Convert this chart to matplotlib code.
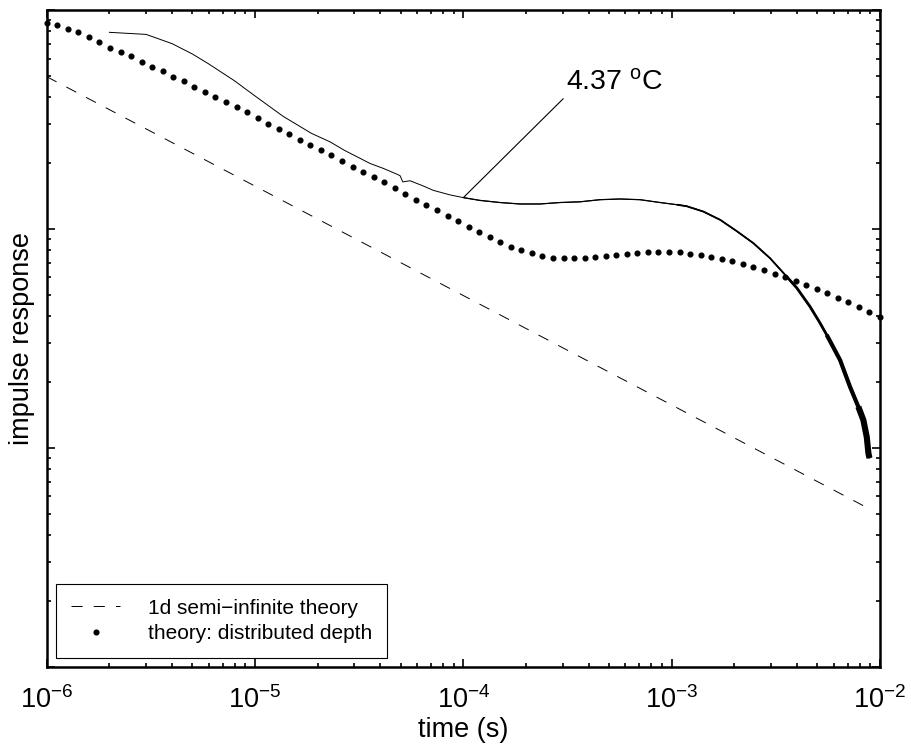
import numpy as np
import matplotlib
matplotlib.use("Agg")
import matplotlib.pyplot as plt
from matplotlib.ticker import LogLocator, NullFormatter

plt.rcParams["font.family"] = ["Liberation Sans", "DejaVu Sans"]
plt.rcParams["mathtext.fontset"] = "custom"
plt.rcParams["mathtext.rm"] = "Liberation Sans"
plt.rcParams["mathtext.it"] = "Liberation Sans:italic"
plt.rcParams["lines.scale_dashes"] = False

# measured impulse response at 4.37 C (time in s, arbitrary units)
t_meas = [2e-6, 3e-6, 4e-6, 5e-6, 6e-6, 7e-6, 8e-6, 9e-6, 1e-5,
          1.37e-5, 1.87e-5, 2.29e-5, 2.70e-5, 3.57e-5, 4.13e-5, 4.79e-5,
          4.97e-5, 5.12e-5, 5.55e-5, 6.43e-5, 7.18e-5, 8.64e-5, 1.0e-4,
          1.20e-4, 1.50e-4, 1.87e-4, 2.33e-4, 2.91e-4, 3.63e-4, 4.53e-4,
          5.65e-4, 7.05e-4, 8.80e-4, 1.06e-3, 1.18e-3, 1.42e-3, 1.71e-3,
          2.05e-3, 2.47e-3, 2.97e-3, 3.57e-3, 3.99e-3, 4.62e-3, 5.16e-3,
          5.55e-3, 6.43e-3, 7.18e-3, 7.87e-3, 8.32e-3, 8.64e-3, 8.80e-3,
          8.90e-3]
y_meas = [791, 774, 702, 630, 567, 515, 474, 436, 405,
          326, 273, 250, 228, 199, 189, 178,
          175, 164, 166, 157, 150, 143, 139,
          135, 132, 130, 130, 132, 133, 136,
          137, 136, 132, 129, 127, 120, 110,
          97.8, 86.0, 73.4, 60.5, 53.7, 44.1, 37.1,
          32.8, 25.2, 19.0, 15.4, 13.4, 11.2, 9.44,
          8.98]

# theory: distributed depth (80 log-spaced times from 1e-6 to 1e-2)
t_theory = np.logspace(-6, -2, 80)
y_theory = [875, 851, 822, 791, 755, 714, 670, 643, 617, 581,
            551, 525, 495, 472, 447, 424, 401, 381, 359, 341,
            322, 303, 287, 272, 256, 243, 229, 217, 204, 192,
            182, 172, 163, 153, 144, 136, 129, 122, 115, 109,
            102, 96.8, 91.6, 87.1, 83.0, 79.8, 77.4, 75.2, 73.8, 73.5,
            73.5, 73.8, 74.5, 75.5, 76.2, 77.1, 77.8, 78.3, 78.3, 78.3,
            78.2, 77.1, 76.0, 74.5, 72.8, 71.3, 69.3, 67.1, 64.9, 62.4,
            60.1, 57.9, 55.5, 53.1, 50.8, 48.3, 46.2, 44.0, 41.7, 39.7]

# 1d semi-infinite theory (t^-1/2)
t_semi = [1e-6, 9e-3]
y_semi = [496, 5.23]

fig = plt.figure(figsize=(9.12, 7.49), dpi=100)
ax = fig.add_axes([0.0512, 0.1099, 0.9137, 0.8767])

ax.plot(t_semi, y_semi, color="k", lw=0.7, dashes=(8, 8),
        label="1d semi\u2212infinite theory")
ax.plot(t_theory, y_theory, linestyle="none", marker="o", ms=3.4,
        color="k", clip_on=False, label="theory: distributed depth")

# measured curve, noise makes the tail look thicker
t_arr = np.array(t_meas)
y_arr = np.array(y_meas)
ax.plot(t_arr, y_arr, color="k", lw=0.7)
for t0, lw in [(1e-4, 0.9), (1e-3, 1.3), (3.5e-3, 2.0), (5.5e-3, 3.0), (7.5e-3, 4.4)]:
    m = t_arr >= t0
    ax.plot(t_arr[m], y_arr[m], color="k", lw=lw, solid_capstyle="butt")

ax.annotate("4.37 $^{\\rm o}$C", xy=(1.0e-4, 139), xytext=(3.11e-4, 405),
            fontsize=20.5, ha="left", va="bottom",
            arrowprops=dict(arrowstyle="-", lw=0.8, color="k",
                            shrinkA=0, shrinkB=0, relpos=(0, 0)))

ax.set_xscale("log")
ax.set_yscale("log")
ax.set_xlim(1e-6, 1e-2)
ax.set_ylim(1, 1000)
ax.xaxis.set_major_locator(LogLocator(base=10, numticks=10))
ax.xaxis.set_minor_locator(LogLocator(base=10, subs=np.arange(2, 10), numticks=20))
ax.yaxis.set_minor_locator(LogLocator(base=10, subs=np.arange(2, 10), numticks=20))
ax.yaxis.set_major_formatter(NullFormatter())
ax.yaxis.set_minor_formatter(NullFormatter())
ax.xaxis.set_minor_formatter(NullFormatter())

ax.tick_params(which="both", direction="in", top=True, right=True,
               width=1.2, colors="k")
ax.tick_params(which="major", length=6, labelsize=19.5, pad=14)
ax.tick_params(which="minor", length=3)
for s in ax.spines.values():
    s.set_linewidth(1.8)

ax.set_xlabel("time (s)", fontsize=19.5, labelpad=2)
ax.set_ylabel("impulse response", fontsize=19.5)
ax.yaxis.set_label_coords(-0.014, 0.5)

leg = ax.legend(loc="lower left", bbox_to_anchor=(0.0112, 0.0132),
                borderaxespad=0, fontsize=15, numpoints=1, handlelength=2.35,
                handletextpad=1.35, borderpad=0.72, labelspacing=0.3,
                fancybox=False, framealpha=1, edgecolor="k")
leg.get_frame().set_linewidth(0.8)

fig.savefig("out.png", dpi=100)
